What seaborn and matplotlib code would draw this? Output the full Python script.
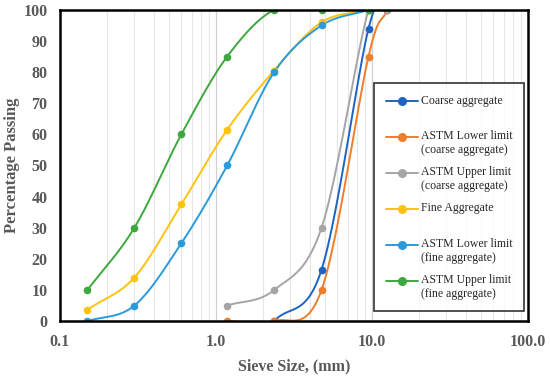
import numpy as np
import pandas as pd
import matplotlib
matplotlib.use("Agg")
import matplotlib.pyplot as plt
import seaborn as sns
from matplotlib.lines import Line2D
from matplotlib.legend_handler import HandlerLine2D
from matplotlib.ticker import FixedLocator, LogLocator, NullFormatter

# sieve sizes (mm)
coarse_sieves = [1.18, 2.36, 4.75, 9.5, 12.5]
fine_sieves = [0.15, 0.3, 0.6, 1.18, 2.36, 4.75, 9.5]

# percentage passing
coarse_agg = [None, 0, 16.5, 94, 100]
coarse_lower = [0, 0, 10, 85, 100]
coarse_upper = [5, 10, 30, 100, 100]
fine_agg = [3.7, 14, 37.5, 61.5, 80.5, 96, 100]
fine_lower = [0, 5, 25, 50, 80, 95, 100]
fine_upper = [10, 30, 60, 85, 100, 100, 100]

series = [
    ("Coarse aggregate", coarse_sieves, coarse_agg, "#1F63C2"),
    ("ASTM Lower limit\n(coarse aggregate)", coarse_sieves, coarse_lower, "#F07D2A"),
    ("ASTM Upper limit\n(coarse aggregate)", coarse_sieves, coarse_upper, "#A5A5A5"),
    ("Fine Aggregate", fine_sieves, fine_agg, "#FFC20E"),
    ("ASTM Lower limit\n(fine aggregate)", fine_sieves, fine_lower, "#2A9ADB"),
    ("ASTM Upper limit\n(fine aggregate)", fine_sieves, fine_upper, "#3DA83D"),
]


def smooth(xs, ys, n=30):
    # Catmull-Rom curve through the points in log-x space (like Excel's smoothed line)
    lx = np.log10(xs)
    y = np.asarray(ys, float)
    px = np.concatenate([[2 * lx[0] - lx[1]], lx, [2 * lx[-1] - lx[-2]]])
    py = np.concatenate([[2 * y[0] - y[1]], y, [2 * y[-1] - y[-2]]])
    outx, outy = [], []
    t = np.linspace(0, 1, n)
    for i in range(1, len(px) - 2):
        for p, out in ((px, outx), (py, outy)):
            p0, p1, p2, p3 = p[i - 1], p[i], p[i + 1], p[i + 2]
            out.extend(0.5 * (2 * p1 + (-p0 + p2) * t + (2 * p0 - 5 * p1 + 4 * p2 - p3) * t ** 2
                              + (-p0 + 3 * p1 - 3 * p2 + p3) * t ** 3))
    return 10 ** np.array(outx), np.array(outy)


class FirstLineHandler(HandlerLine2D):
    # put the legend marker next to the first line of a two-line label
    def create_artists(self, legend, orig_handle, xdescent, ydescent, width, height, fontsize, trans):
        arts = super().create_artists(legend, orig_handle, xdescent, ydescent, width, height, fontsize, trans)
        for a in arts:
            a.set_ydata(np.asarray(a.get_ydata()) + 0.55 * fontsize)
        return arts


sns.set_style("white")
plt.rcParams["font.family"] = ["Liberation Serif", "DejaVu Serif"]

fig = plt.figure(figsize=(5.5, 3.8), dpi=100)
ax = fig.add_axes([0.109, 0.155, 0.851, 0.819])

handles = []
for label, xs, ys, color in series:
    pts = [(x, y) for x, y in zip(xs, ys) if y is not None]
    sx = [p[0] for p in pts]
    sy = [p[1] for p in pts]
    cx, cy = smooth(sx, sy)
    curve = pd.DataFrame({"x": cx, "y": cy})
    sns.lineplot(data=curve, x="x", y="y", sort=False, color=color, lw=1.4, ax=ax)
    sns.scatterplot(x=sx, y=sy, color=color, s=30, linewidth=0, ax=ax, zorder=3)
    h, = ax.plot([], [], color=color, lw=1.4, marker="o", ms=5.5)
    handles.append(h)

ax.set_xscale("log")
ax.set_xlim(0.1, 100)
ax.set_ylim(0, 100)
ax.xaxis.set_major_locator(FixedLocator([0.1, 1, 10, 100]))
ax.set_xticklabels(["0.1", "1.0", "10.0", "100.0"])
ax.xaxis.set_minor_locator(LogLocator(base=10, subs=np.arange(2, 10)))
ax.xaxis.set_minor_formatter(NullFormatter())
ax.set_yticks(range(0, 101, 10))

ax.grid(False)
ax.grid(True, axis="x", which="minor", color="#e6e6e6", lw=0.8)
ax.grid(True, axis="x", which="major", color="#d0d0d0", lw=0.9)
ax.set_axisbelow(True)

for s in ax.spines.values():
    s.set_color("black")
    s.set_linewidth(1.8)
    s.set_zorder(5)

ax.tick_params(axis="both", which="both", length=0)
ax.tick_params(axis="y", pad=9)
ax.tick_params(axis="x", pad=9)
for lab in ax.get_xticklabels() + ax.get_yticklabels():
    lab.set_fontsize(11.5)
    lab.set_fontweight("bold")
    lab.set_color("#595959")

ax.set_xlabel("Sieve Size, (mm)", fontsize=11.5, fontweight="bold", color="#595959", labelpad=6)
ax.set_ylabel("Percentage Passing", fontsize=12, fontweight="bold", color="#595959")
ax.yaxis.set_label_coords(-0.085, 0.5)

labels = [s[0] if "\n" in s[0] else s[0] + "\n " for s in series]
leg = ax.legend(handles, labels, loc="upper left", bbox_to_anchor=(0.672, 0.764),
                handler_map={Line2D: FirstLineHandler()},
                frameon=True, fancybox=False, fontsize=8.5, handlelength=2.7,
                handletextpad=0.3, labelspacing=0.86, borderpad=0.95, borderaxespad=0)
leg.get_frame().set_edgecolor("black")
leg.get_frame().set_linewidth(1.2)
leg.set_zorder(6)

fig.savefig("out.png", dpi=100)
